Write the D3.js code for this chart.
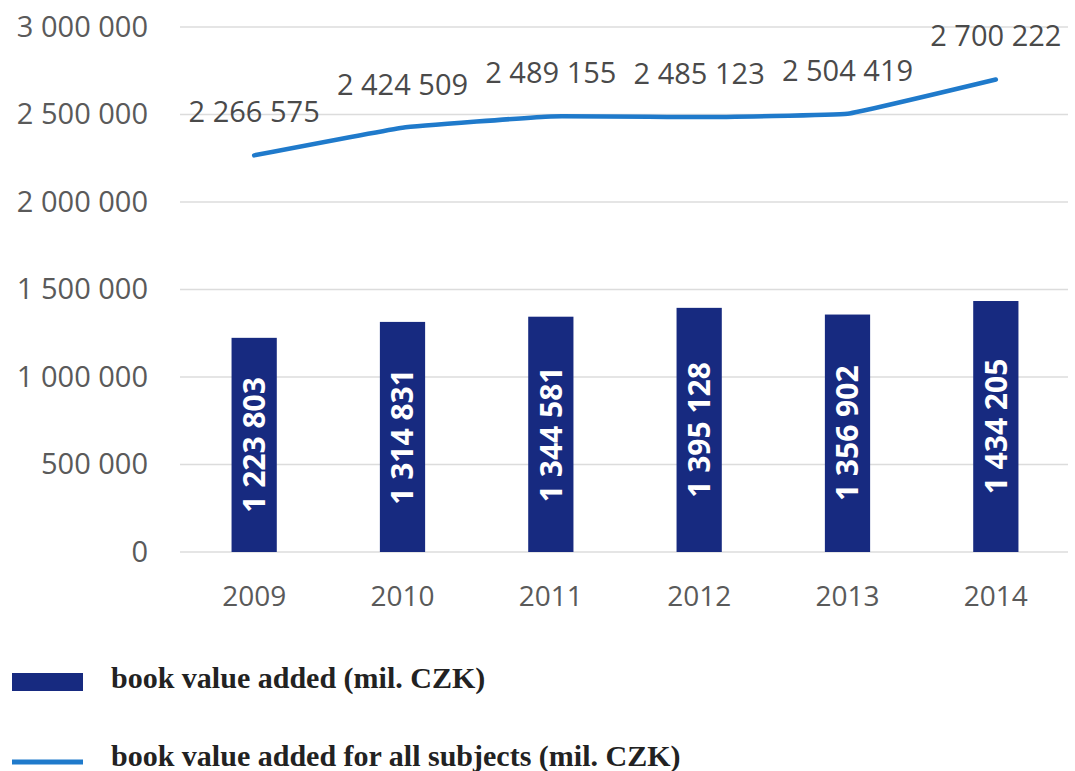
<!DOCTYPE html>
<html>
<head>
<meta charset="utf-8">
<script src="https://cdn.jsdelivr.net/npm/d3@7/dist/d3.min.js"></script>
<style>
  html, body { margin: 0; padding: 0; background: #ffffff; }
  svg { display: block; }
</style>
</head>
<body>
<svg id="chart" width="1075" height="771"></svg>
<script>
// Years on the category axis
const years = ["2009", "2010", "2011", "2012", "2013", "2014"];
// Book value added (mil. CZK) — bars
const barValues = [1223803, 1314831, 1344581, 1395128, 1356902, 1434205];
// Book value added for all subjects (mil. CZK) — line
const lineValues = [2266575, 2424509, 2489155, 2485123, 2504419, 2700222];
// Value axis ticks
const yTicks = [0, 500000, 1000000, 1500000, 2000000, 2500000, 3000000];
// Legend entries
const legendLabels = ["book value added (mil. CZK)", "book value added for all subjects (mil. CZK)"];

const barColor = "#172a80";
const lineColor = "#1f7acb";
const axisText = "#5a5a5a";
const sansFont = "'Open Sans', 'Liberation Sans', sans-serif";
const serifFont = "'Liberation Serif', 'DejaVu Serif', serif";

const fmt = d3.formatLocale({ decimal: ",", thousands: " ", grouping: [3], currency: ["", ""] }).format(",d");

const svg = d3.select("#chart");

const x = d3.scaleBand().domain(years).range([180, 1070]);
const y = d3.scaleLinear().domain([0, 3000000]).range([552, 27]);
const barW = x.bandwidth() * 0.305;

// Horizontal gridlines
svg.append("g")
  .selectAll("line")
  .data(yTicks)
  .join("line")
  .attr("x1", 180).attr("x2", 1068)
  .attr("y1", d => y(d)).attr("y2", d => y(d))
  .attr("stroke", "#dcdcdc")
  .attr("stroke-width", 1.5);

// Value axis labels
const yAxis = d3.axisLeft(y).tickValues(yTicks).tickFormat(fmt).tickSize(0).tickPadding(0);
const yg = svg.append("g").attr("transform", "translate(148,0)").call(yAxis);
yg.select(".domain").remove();
yg.selectAll("text")
  .attr("fill", axisText)
  .style("font-family", sansFont)
  .style("font-size", "29px");

// Category axis labels
const xAxis = d3.axisBottom(x).tickSize(0).tickPadding(0);
const xg = svg.append("g").attr("transform", "translate(0,586)").call(xAxis);
xg.select(".domain").remove();
xg.selectAll("text")
  .attr("fill", axisText)
  .style("font-family", sansFont)
  .style("font-size", "28px");

// Bars
svg.append("g")
  .selectAll("rect")
  .data(years)
  .join("rect")
  .attr("x", (d) => x(d) + x.bandwidth() / 2 - barW / 2)
  .attr("width", barW)
  .attr("y", (d, i) => y(barValues[i]))
  .attr("height", (d, i) => y(0) - y(barValues[i]))
  .attr("fill", barColor);

// Bar value labels, rotated inside each bar
svg.append("g")
  .selectAll("text")
  .data(years)
  .join("text")
  .attr("transform", (d, i) => {
    const cx = x(d) + x.bandwidth() / 2;
    const cy = (y(barValues[i]) + y(0)) / 2;
    return `translate(${cx},${cy}) rotate(-90)`;
  })
  .attr("text-anchor", "middle")
  .attr("dy", "0.36em")
  .attr("fill", "#ffffff")
  .style("font-family", sansFont)
  .style("font-weight", "bold")
  .style("font-size", "30px")
  .text((d, i) => fmt(barValues[i]));

// Line series, lightly smoothed
const line = d3.line()
  .x((d, i) => x(years[i]) + x.bandwidth() / 2)
  .y(d => y(d))
  .curve(d3.curveCardinal.tension(0.75));

svg.append("path")
  .datum(lineValues)
  .attr("d", line)
  .attr("fill", "none")
  .attr("stroke", lineColor)
  .attr("stroke-width", 4.5)
  .attr("stroke-linecap", "round")
  .attr("stroke-linejoin", "round");

// Line value labels above points
svg.append("g")
  .selectAll("text")
  .data(lineValues)
  .join("text")
  .attr("x", (d, i) => x(years[i]) + x.bandwidth() / 2)
  .attr("y", d => y(d) - 33)
  .attr("text-anchor", "middle")
  .attr("fill", "#4a4a4a")
  .style("font-family", sansFont)
  .style("font-size", "29px")
  .text(d => fmt(d));

// Legend
const legend = svg.append("g");
legend.append("rect")
  .attr("x", 12).attr("y", 673).attr("width", 71).attr("height", 18)
  .attr("fill", barColor);
legend.append("line")
  .attr("x1", 12).attr("x2", 83).attr("y1", 762).attr("y2", 762)
  .attr("stroke", lineColor).attr("stroke-width", 5);
legend.selectAll("text")
  .data(legendLabels)
  .join("text")
  .attr("x", 111)
  .attr("y", (d, i) => 688 + i * 78)
  .attr("fill", "#222222")
  .style("font-family", serifFont)
  .style("font-weight", "bold")
  .style("font-size", "30px")
  .text(d => d);
</script>
</body>
</html>
